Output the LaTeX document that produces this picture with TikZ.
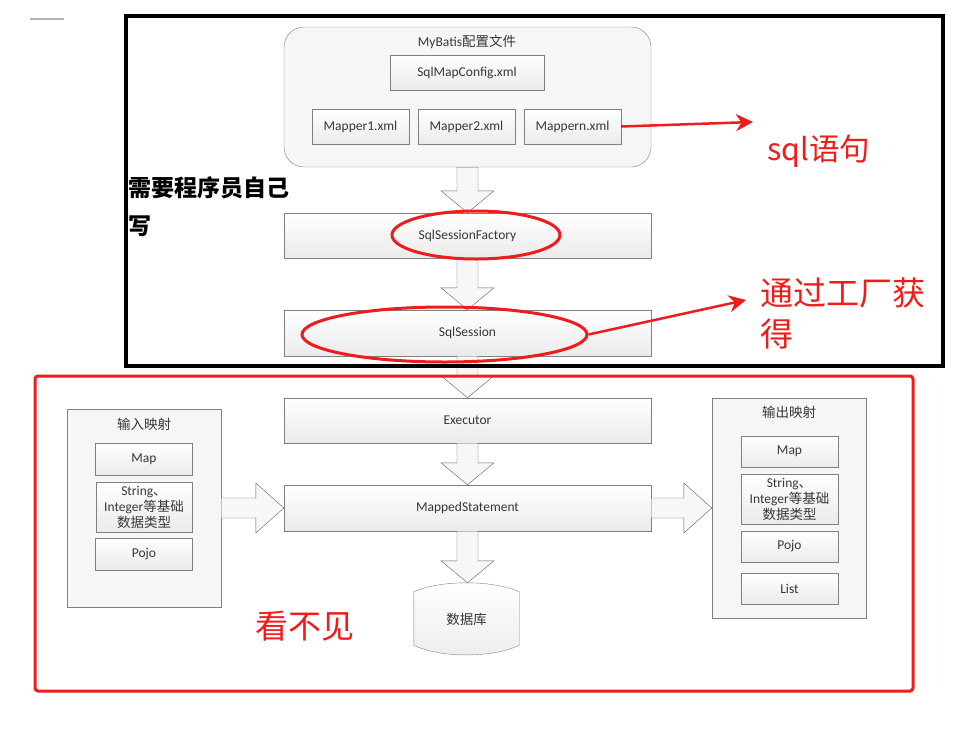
\documentclass[tikz,border=0pt]{standalone}
\usepackage{fontspec}
\setmainfont{Carlito}
\newfontfamily\cjk{Noto Sans CJK SC}
\usepackage{tikz}
\usetikzlibrary{positioning}
\usetikzlibrary{shapes.geometric, arrows.meta, calc, backgrounds}

\definecolor{markred}{RGB}{240,28,28}
\definecolor{boxline}{RGB}{128,128,128}
\definecolor{boxtext}{RGB}{55,55,55}
\newcommand{\lbl}{\fontsize{13.5}{16}\selectfont}

\tikzset{
    box/.style={draw=boxline, top color=white, bottom color=gray!16, text=boxtext, font=\lbl,
        minimum width=97pt, minimum height=32pt, inner sep=0pt, align=center},
    widebox/.style={box, minimum width=367pt, minimum height=45pt},
    holder/.style={draw=boxline, fill=gray!7, inner sep=0pt},
    title/.style={text=boxtext, font=\lbl, inner sep=0pt},
    blk/.style={draw=gray!75!black, fill=gray!6, line join=miter},
    ring/.style={draw=markred, line width=3pt, ellipse, inner sep=0pt},
    redarrow/.style={draw=markred, line width=2.5pt, -{Stealth[length=17pt,width=17pt]}},
    redtxt/.style={text=markred, inner sep=0pt}
}

\newcommand{\downblk}[2]{%
    \draw[blk] let \p1=(#1), \p2=(#2) in
        (\x1-10.5pt,\y1) -- (\x1-10.5pt,\y2+22pt) -- (\x1-26.5pt,\y2+22pt) -- (\x1,\y2)
        -- (\x1+26.5pt,\y2+22pt) -- (\x1+10.5pt,\y2+22pt) -- (\x1+10.5pt,\y1) -- cycle;}
\newcommand{\rightblk}[2]{%
    \draw[blk] let \p1=(#1), \p2=(#2) in
        (\x1,\y1+10pt) -- (\x2-28pt,\y1+10pt) -- (\x2-28pt,\y1+25pt) -- (\x2,\y1)
        -- (\x2-28pt,\y1-25pt) -- (\x2-28pt,\y1-10pt) -- (\x1,\y1-10pt) -- cycle;}

\begin{document}
\begin{tikzpicture}[x=1pt,y=-1pt]
    \useasboundingbox (0,0) rectangle (961,747);

    % MyBatis config files
    \node (cfg)[holder, rounded corners=20pt, minimum width=367pt, minimum height=140pt] at (467.5,97) {};
    \node (cfgtitle)[title] at (467,42) {MyBatis{\cjk 配置文件}};
    \node (smc)[box, minimum width=154pt, minimum height=35pt] at (467,72.5) {SqlMapConfig.xml};
    \node (m1)[box, minimum height=35pt] at (360.5,126.5) {Mapper1.xml};
    \node (m2)[box, minimum height=35pt] at (466.5,126.5) {Mapper2.xml};
    \node (mn)[box, minimum height=35pt] at (572.5,126.5) {Mappern.xml};

    % main chain
    \node (fac)[widebox] at (467.5,235.5) {SqlSessionFactory};
    \node (ses)[widebox, minimum height=46pt] at (467.5,333) {SqlSession};
    \node (exe)[widebox] at (467.5,420.5) {Executor};
    \node (mst)[widebox, minimum height=46pt] at (467.5,508) {MappedStatement};
    \node (db)[title, minimum width=105pt, minimum height=72pt] at (466.5,619) {\cjk 数据库};
    \begin{scope}[on background layer]
        \draw[draw=boxline, top color=white, bottom color=gray!14]
            ($(db.north west)+(0,9)$) .. controls ($(db.north west)+(26,-3)$) and ($(db.north east)+(-26,-3)$) .. ($(db.north east)+(0,9)$)
            -- ($(db.south east)+(0,-10)$) .. controls ($(db.south east)+(-26,3)$) and ($(db.south west)+(26,3)$) .. ($(db.south west)+(0,-10)$)
            -- cycle;
    \end{scope}

    % input mapping
    \node (inp)[holder, minimum width=154pt, minimum height=198pt] at (144,508) {};
    \node (inptitle)[title] at (144,424) {\cjk 输入映射};
    \node (inmap)[box] at (144,459) {Map};
    \node (inbase)[box, minimum width=96pt, minimum height=50pt] at (144,507) {String{\cjk 、}\\Integer{\cjk 等基础}\\{\cjk 数据类型}};
    \node (inpojo)[box] at (144,554) {Pojo};

    % output mapping
    \node (out)[holder, minimum width=154pt, minimum height=220pt] at (789,508) {};
    \node (outtitle)[title] at (789,412) {\cjk 输出映射};
    \node (outmap)[box, minimum height=31pt] at (789.5,451.5) {Map};
    \node (outbase)[box, minimum height=50pt] at (789.5,499) {String{\cjk 、}\\Integer{\cjk 等基础}\\{\cjk 数据类型}};
    \node (outpojo)[box, minimum height=31pt] at (789.5,546.5) {Pojo};
    \node (outlist)[box, minimum height=31pt] at (789.5,588.5) {List};

    % block arrows
    \downblk{cfg.south}{fac.north}
    \downblk{fac.south}{ses.north}
    \downblk{ses.south}{exe.north}
    \downblk{exe.south}{mst.north}
    \downblk{mst.south}{db.north}
    \rightblk{inp.east}{mst.west}
    \rightblk{mst.east}{out.west}

    % frames
    \draw[line width=4pt] (126,16) rectangle (943,366);
    \draw[markred, line width=3pt, rounded corners=3pt] (35,376) rectangle (913,691);
    \draw[gray!60, line width=1.5pt] (30,19) -- (64,19);

    % red marks
    \node (ring1)[ring, minimum width=168pt, minimum height=48pt] at (476,235) {};
    \node (ring2)[ring, minimum width=285pt, minimum height=55pt] at (444.5,334.5) {};
    \coordinate (sqltip) at (753,122);
    \coordinate (factip) at (746,300);
    \draw[redarrow] (mn.east) -- (sqltip);
    \draw[redarrow] (ring2.east) -- (factip);

    \node (sqltxt)[redtxt, anchor=base west, font=\cjk\fontsize{30.5}{36}\selectfont] at (767,160) {sql语句};
    \node (factxt)[redtxt, anchor=base west, align=left, font=\cjk\fontsize{33}{41}\selectfont] at (760,346) {通过工厂获\\得};
    \node (selftxt)[anchor=base west, align=left, inner sep=0pt, font=\cjk\bfseries\fontsize{23}{38}\selectfont] at (128,234) {需要程序员自己\\写};
    \node (hidtxt)[redtxt, anchor=base west, font=\cjk\fontsize{33}{40}\selectfont] at (255,638) {看不见};
\end{tikzpicture}
\end{document}
